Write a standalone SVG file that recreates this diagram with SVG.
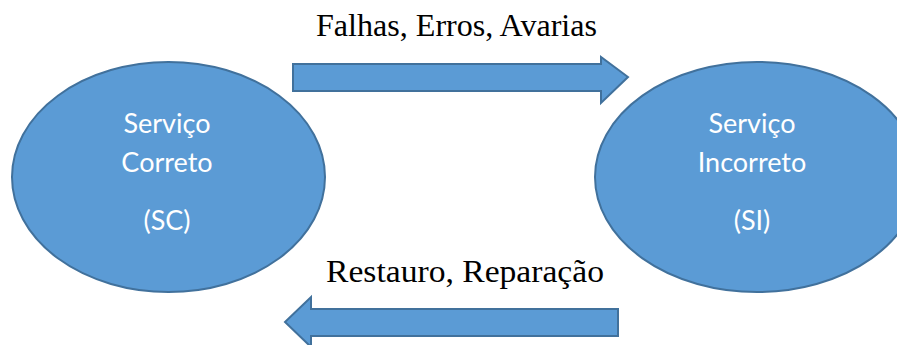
<svg xmlns="http://www.w3.org/2000/svg" width="897" height="345" viewBox="0 0 897 345">
<style>
.shape{fill:#5B9BD5;stroke:#41719C;stroke-width:2}
.inner{font-family:Lato,"Open Sans","Liberation Sans",sans-serif;font-size:27px;fill:#ffffff;text-anchor:middle}
.lbl{font-family:"Liberation Serif","Times New Roman",serif;font-size:31px;fill:#000000}
</style>
<rect width="897" height="345" fill="#ffffff"/>
<g id="node-sc">
<ellipse class="shape" cx="168.5" cy="177" rx="156.5" ry="115"/>
<text class="inner" x="167" y="133">Serviço</text>
<text class="inner" x="167" y="172">Correto</text>
<text class="inner" x="167" y="230">(SC)</text>
</g>
<g id="node-si">
<ellipse class="shape" cx="757" cy="177" rx="162" ry="115"/>
<text class="inner" x="752" y="133">Serviço</text>
<text class="inner" x="752" y="172">Incorreto</text>
<text class="inner" x="752" y="230">(SI)</text>
</g>
<g id="connectors">
<polygon class="shape" points="293,64 601,64 601,57 628,77 601,103 601,91 293,91"/>
<text class="lbl" x="316" y="36" textLength="281" lengthAdjust="spacingAndGlyphs">Falhas, Erros, Avarias</text>
<polygon class="shape" points="618,309 311,309 311,297 285,322 311,347 311,336 618,336"/>
<text class="lbl" x="326" y="282" textLength="278" lengthAdjust="spacingAndGlyphs">Restauro, Reparação</text>
</g>
</svg>
